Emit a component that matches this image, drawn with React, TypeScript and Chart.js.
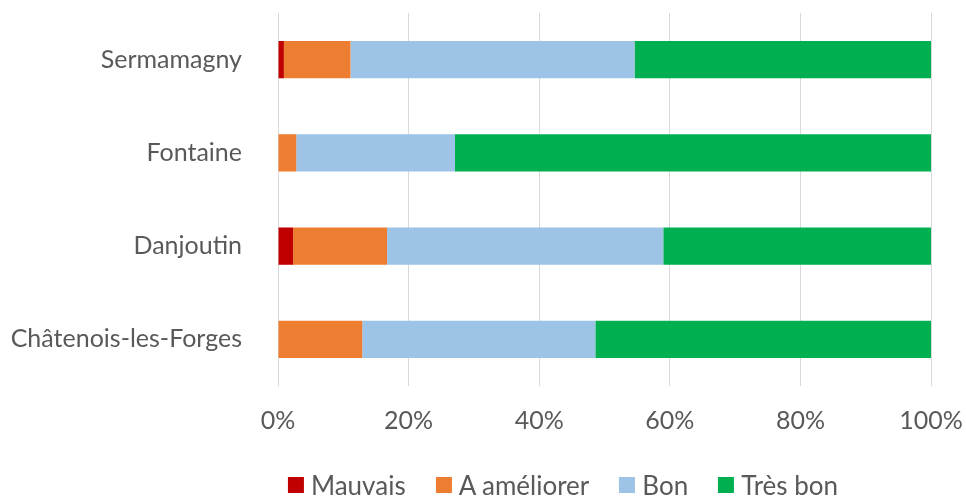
import React, { useEffect, useRef } from "react";
import { Chart, registerables } from "chart.js";

Chart.register(...registerables);

const categories = ["Sermamagny", "Fontaine", "Danjoutin", "Châtenois-les-Forges"];
const mauvais = [0.9, 0, 2.3, 0];
const aAmeliorer = [10.2, 2.8, 14.4, 12.9];
const bon = [43.5, 24.3, 42.3, 35.7];
const tresBon = [45.4, 72.9, 41.0, 51.4];
const xTicks = [0, 20, 40, 60, 80, 100];

const seriesNames = ["Mauvais", "A améliorer", "Bon", "Très bon"];
const seriesColors = ["#C00000", "#ED7D31", "#9DC3E6", "#00B050"];

const FONT = "Lato, 'Open Sans', sans-serif";
const TXT = "#595959";

export default function App() {
  const ref = useRef<HTMLCanvasElement | null>(null);
  useEffect(() => {
    if (!ref.current) return;
    const values = [mauvais, aAmeliorer, bon, tresBon];
    const chart = new Chart(ref.current, {
      type: "bar",
      data: {
        labels: categories,
        datasets: seriesNames.map((name, i) => ({
          label: name,
          data: values[i],
          backgroundColor: seriesColors[i],
        })),
      },
      options: {
        indexAxis: "y",
        animation: false,
        responsive: true,
        maintainAspectRatio: false,
        layout: { padding: { top: 13, right: 35, left: 0, bottom: 61 } },
        datasets: { bar: { barPercentage: 0.4, categoryPercentage: 1 } },
        scales: {
          x: {
            stacked: true,
            min: 0,
            max: 100,
            afterBuildTicks: (axis: any) => {
              axis.ticks = xTicks.map((v) => ({ value: v }));
            },
            afterFit: (s: any) => {
              s.height = 50;
              s.paddingLeft = 0;
              s.paddingRight = 0;
            },
            grid: { color: "#D9D9D9", lineWidth: 1, drawTicks: false },
            border: { display: false },
            ticks: {
              padding: 20,
              maxRotation: 0,
              color: TXT,
              font: { family: FONT, size: 25 },
              callback: (v: any) => v + "%",
            },
          },
          y: {
            stacked: true,
            afterFit: (s: any) => {
              s.width = 278;
              s.paddingTop = 0;
              s.paddingBottom = 0;
            },
            grid: { display: false },
            border: { display: false },
            ticks: { padding: 28, color: TXT, font: { family: FONT, size: 25 } },
          },
        },
        plugins: {
          tooltip: { enabled: false },
          legend: { display: false },
        },
      },
    });
    return () => chart.destroy();
  }, []);
  return (
    <div style={{ position: "absolute", left: 0, top: 0, width: 966, height: 497 }}>
      <canvas ref={ref} style={{ display: "block" }} />
      <div
        style={{
          position: "absolute",
          left: 563,
          top: 485,
          transform: "translate(-50%, -50%)",
          display: "flex",
          alignItems: "center",
          whiteSpace: "nowrap",
          fontFamily: FONT,
          fontSize: 26,
          color: TXT,
          lineHeight: "30px",
        }}
      >
        {seriesNames.map((name, i) => (
          <div
            key={name}
            style={{ display: "flex", alignItems: "center", marginLeft: i === 0 ? 0 : 30 }}
          >
            <span
              style={{
                display: "inline-block",
                width: 16,
                height: 16,
                background: seriesColors[i],
                marginRight: 7,
              }}
            />
            <span>{name}</span>
          </div>
        ))}
      </div>
    </div>
  );
}
